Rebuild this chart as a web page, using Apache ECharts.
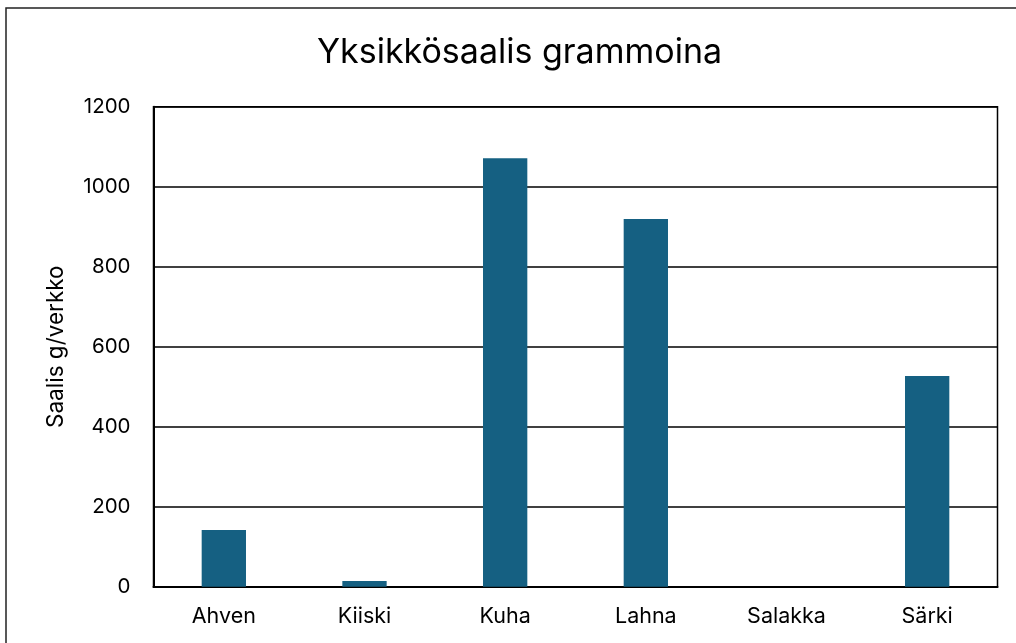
<!DOCTYPE html>
<html>
<head>
<meta charset="utf-8">
<script src="https://cdn.jsdelivr.net/npm/echarts@6/dist/echarts.min.js"></script>
<style>
  html, body { margin: 0; padding: 0; background: #fff; }
  #chart { width: 1016px; height: 643px; }
</style>
</head>
<body>
<div id="chart"></div>
<script>
// lajit ja yksikkösaalis (g/verkko)
var lajit = ['Ahven', 'Kiiski', 'Kuha', 'Lahna', 'Salakka', 'Särki'];
var saalis = [142, 14, 1071, 919, 0, 527];
var yTicks = [0, 200, 400, 600, 800, 1000, 1200];

var fontName = 'Inter';

var myChart = echarts.init(document.getElementById('chart'));

var option = {
    animation: false,
    backgroundColor: '#fff',
    textStyle: { fontFamily: fontName, color: '#000' },
    title: {
        text: 'Yksikkösaalis grammoina',
        left: 312,
        top: 31,
        textStyle: { fontFamily: fontName, fontSize: 34, fontWeight: 'normal', color: '#000' }
    },
    graphic: [{
        type: 'rect',
        shape: { x: 6, y: 8, width: 1100, height: 700 },
        style: { fill: 'none', stroke: '#222', lineWidth: 1.5 },
        silent: true
    }],
    grid: {
        left: 153.5,
        right: 18.5,
        top: 106.7,
        bottom: 56.3,
        show: true,
        borderColor: '#000',
        borderWidth: 1.5,
        containLabel: false
    },
    xAxis: {
        type: 'category',
        data: lajit,
        axisLine: { lineStyle: { color: '#000', width: 2 } },
        axisTick: { show: false },
        axisLabel: { margin: 19, fontSize: 21.5, color: '#000', fontFamily: fontName }
    },
    yAxis: {
        type: 'value',
        min: yTicks[0],
        max: yTicks[yTicks.length - 1],
        interval: 200,
        name: 'Saalis g/verkko',
        nameLocation: 'middle',
        nameRotate: 90,
        nameGap: 86,
        nameTextStyle: { fontSize: 22.5, color: '#000', fontFamily: fontName },
        axisLine: { show: true, lineStyle: { color: '#000', width: 2 } },
        axisTick: { show: false },
        axisLabel: {
            margin: 23, fontSize: 20.5, color: '#000', fontFamily: fontName,
            formatter: function (v) { return String(v); }
        },
        splitLine: { lineStyle: { color: '#000', width: 1.5 } }
    },
    series: [{
        type: 'bar',
        data: saalis,
        barWidth: '31.5%',
        itemStyle: { color: '#156082' }
    }]
};

myChart.setOption(option);
</script>
</body>
</html>
